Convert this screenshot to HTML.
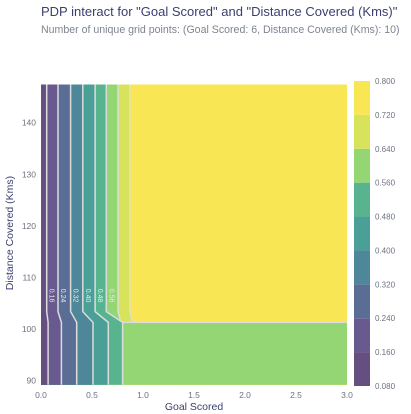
<!DOCTYPE html>
<html><head><meta charset="utf-8"><style>
body{margin:0;background:#fff;font-family:"Liberation Sans",sans-serif}
svg{display:block}
</style></head><body>
<svg id="c" width="411" height="414" xmlns="http://www.w3.org/2000/svg">
<text x="41" y="16" font-size="13" fill="#3b3f6e">PDP interact for "Goal Scored" and "Distance Covered (Kms)"</text>
<text x="41" y="33" font-size="10.6" fill="#7d8590">Number of unique grid points: (Goal Scored: 6, Distance Covered (Kms): 10)</text>
<text x="194" y="410" font-size="10.5" fill="#3b3f6e" text-anchor="middle">Goal Scored</text>
<text transform="translate(13,233) rotate(-90)" font-size="10.5" fill="#3b3f6e" text-anchor="middle">Distance Covered (Kms)</text>
<g id="plot"></g>
</svg>
<script>
const levels=[0.08,0.16,0.24,0.32,0.40,0.48,0.56,0.64,0.72,0.80];
const bandColors=["#654e80","#685a8f","#5a6e95","#4e8799","#4a9f96","#57b48f","#93d673","#d7e35b","#f8e654"];
const upperX=[0.056,0.167,0.29,0.41,0.53,0.64,0.755,0.87];
const lowerX=[0.07,0.20,0.35,0.51,0.66,0.80];
const xTicks=[0,0.5,1,1.5,2,2.5,3];
const xTickLabels=["0.0","0.5","1.0","1.5","2.0","2.5","3.0"];
const yTicks=[90,100,110,120,130,140];
const yBreakTop=103.4, yBreakBot=101.3;
const xMin=0,xMax=3,yMin=89.2,yMax=147.4;
const X=v=>41+(v-xMin)/(xMax-xMin)*306;
const Y=v=>380.7-(v-90)*5.16;
const NS="http://www.w3.org/2000/svg";
const g=document.getElementById('plot');
function mk(t,a){const e=document.createElementNS(NS,t);for(const k in a)e.setAttribute(k,a[k]);g.appendChild(e);return e;}
const pts=a=>a.map(p=>X(p[0]).toFixed(1)+","+Y(p[1]).toFixed(1)).join(" ");
let r=mk('rect',{x:X(0),y:Y(yMax),width:X(3)-X(0),height:Y(yMin)-Y(yMax),fill:bandColors[8]});


for(let k=upperX.length-1;k>=0;k--){
  let u=upperX[k],poly;
  if(k<lowerX.length){
    const l=lowerX[k];
    poly=[[0,yMax],[u,yMax],[u,yBreakTop],[l,yBreakBot],[l,yMin],[0,yMin]];
  } else {
    poly=[[0,yMax],[u,yMax],[u,yBreakTop],[u+0.03,yBreakBot],[3,yBreakBot],[3,yMin],[0,yMin]];
  }
  const p=mk('polygon',{points:pts(poly),fill:bandColors[k]});
  
  
  const line=mk('polyline',{points:pts(poly.slice(1,5)),fill:"none",stroke:"#dcdcdc","stroke-width":1.5});
  
  
  if(k<6){
    const t=mk('text',{transform:`translate(${X(u)+3},${Y(106.5)}) rotate(90)`,"font-size":7,fill:"#e8e8e8","text-anchor":"middle"});
    t.textContent=levels[k+1].toFixed(2);
    
    
  }
}
xTicks.forEach((v,i)=>{const t=mk('text',{x:X(v),y:398,"font-size":8.5,fill:"#6b7280","text-anchor":"middle"});t.textContent=xTickLabels[i];

});
yTicks.forEach(v=>{const t=mk('text',{x:36,y:Y(v)+3,"font-size":8.5,fill:"#6b7280","text-anchor":"end"});t.textContent=v;

});
const cb0=386,cb1=81;
const CY=v=>cb0-(v-levels[0])/(levels[levels.length-1]-levels[0])*(cb0-cb1);
for(let i=0;i<bandColors.length;i++){
  const b=mk('rect',{x:354,y:CY(levels[i+1]),width:16,height:CY(levels[i])-CY(levels[i+1]),fill:bandColors[i]});
  
  
}
levels.forEach(v=>{const t=mk('text',{x:375,y:CY(v)+3,"font-size":8,fill:"#6b7280"});t.textContent=v.toFixed(3);

});
</script>
</body></html>
